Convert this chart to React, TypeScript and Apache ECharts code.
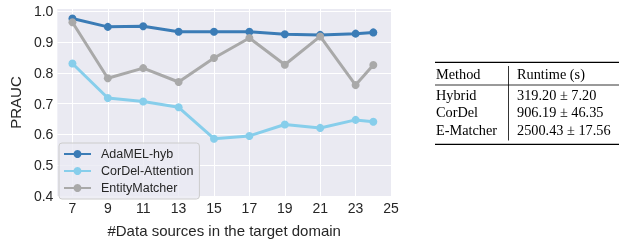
import React, { useEffect, useRef } from "react";
import * as echarts from "echarts";

const xValues = [7, 9, 11, 13, 15, 17, 19, 21, 23, 24];
const adamelHyb = [0.976, 0.949, 0.951, 0.933, 0.933, 0.933, 0.925, 0.923, 0.927, 0.931];
const cordelAttention = [0.83, 0.718, 0.707, 0.688, 0.586, 0.595, 0.632, 0.621, 0.647, 0.641];
const entityMatcher = [0.964, 0.782, 0.815, 0.77, 0.848, 0.913, 0.826, 0.918, 0.76, 0.825];
const seriesNames = ["AdaMEL-hyb", "CorDel-Attention", "EntityMatcher"];
const xTicks = [7, 9, 11, 13, 15, 17, 19, 21, 23, 25];
const yTicks = [0.4, 0.5, 0.6, 0.7, 0.8, 0.9, 1.0];

const tableHeader = ["Method", "Runtime (s)"];
const tableMethods = ["Hybrid", "CorDel", "E-Matcher"];
const tableRuntimes = ["319.20 ± 7.20", "906.19 ± 46.35", "2500.43 ± 17.56"];

const colors = ["#3b7cb6", "#87ceeb", "#a9a9a9"];

export default function App() {
  const ref = useRef<HTMLDivElement>(null);
  useEffect(() => {
    if (!ref.current) return;
    const chart = echarts.init(ref.current, undefined, { renderer: "svg" });
    const font = "Liberation Sans";
    const serif = "Liberation Serif";
    const allSeries = [adamelHyb, cordelAttention, entityMatcher];

    const graphics: any[] = [];
    const tl = 435, tr = 619, vx = 508.5;
    graphics.push({ type: "line", shape: { x1: tl, y1: 62.3, x2: tr, y2: 62.3 }, style: { stroke: "#000", lineWidth: 1.3 } });
    graphics.push({ type: "line", shape: { x1: tl, y1: 85, x2: tr, y2: 85 }, style: { stroke: "#000", lineWidth: 0.8 } });
    graphics.push({ type: "line", shape: { x1: tl, y1: 144.3, x2: tr, y2: 144.3 }, style: { stroke: "#000", lineWidth: 1.3 } });
    graphics.push({ type: "line", shape: { x1: vx, y1: 66, x2: vx, y2: 140.5 }, style: { stroke: "#000", lineWidth: 0.8 } });
    const txt = (s: string, x: number, y: number) => ({
      type: "text", x, y,
      style: { text: s, font: `14.3px "${serif}"`, fill: "#000", textVerticalAlign: "middle", verticalAlign: "middle" },
    });
    graphics.push(txt(tableHeader[0], 436, 74));
    graphics.push(txt(tableHeader[1], 517, 74));
    const rowY = [94.5, 112, 129.5];
    tableMethods.forEach((m, i) => {
      graphics.push(txt(m, 436, rowY[i]));
      graphics.push(txt(tableRuntimes[i], 517, rowY[i]));
    });

    chart.setOption({
      animation: false,
      textStyle: { fontFamily: font },
      grid: {
        left: 53, right: 234, top: 9, bottom: 35,
        show: true, backgroundColor: "#eaeaf2", borderWidth: 0,
      },
      xAxis: {
        type: "value",
        min: 6.15,
        max: 25,
        name: "#Data sources in the target domain",
        nameLocation: "middle",
        nameGap: 27,
        nameTextStyle: { fontSize: 15, color: "#262626", fontFamily: font },
        axisLine: { show: false },
        axisTick: { show: false, customValues: xTicks },
        axisLabel: { customValues: xTicks, fontSize: 14, color: "#262626", margin: 5, fontFamily: font },
        splitLine: { show: true, lineStyle: { color: "#ffffff", width: 1 } },
      },
      yAxis: {
        type: "value",
        min: 0.4,
        max: 1.007,
        name: "PRAUC",
        nameLocation: "middle",
        nameGap: 31,
        nameTextStyle: { fontSize: 15, color: "#262626", fontFamily: font },
        axisLine: { show: false },
        axisTick: { show: false, customValues: yTicks },
        axisLabel: {
          customValues: yTicks, fontSize: 14, color: "#262626", margin: 4, fontFamily: font,
          formatter: (v: number) => v.toFixed(1),
        },
        splitLine: { show: true, lineStyle: { color: "#ffffff", width: 1 } },
      },
      legend: {
        orient: "vertical",
        left: 59,
        top: 143,
        padding: [4, 6, 4, 4],
        itemWidth: 27,
        itemHeight: 10,
        itemGap: 3,
        backgroundColor: "rgba(234,234,242,0.8)",
        borderColor: "#cccccc",
        borderWidth: 1,
        borderRadius: 3,
        textStyle: { fontSize: 12.5, color: "#262626", fontFamily: font, lineHeight: 14, padding: [0, 0, 0, 5] },
        data: seriesNames,
      },
      series: allSeries.map((vals, i) => ({
        name: seriesNames[i],
        type: "line",
        data: xValues.map((x, j) => [x, vals[j]]),
        symbol: "circle",
        symbolSize: 8,
        itemStyle: { color: colors[i] },
        lineStyle: { color: colors[i], width: 3 },
      })),
      graphic: graphics,
    });
    return () => chart.dispose();
  }, []);
  return <div ref={ref} style={{ position: "fixed", left: 0, top: 0, width: 625, height: 243 }} />;
}
